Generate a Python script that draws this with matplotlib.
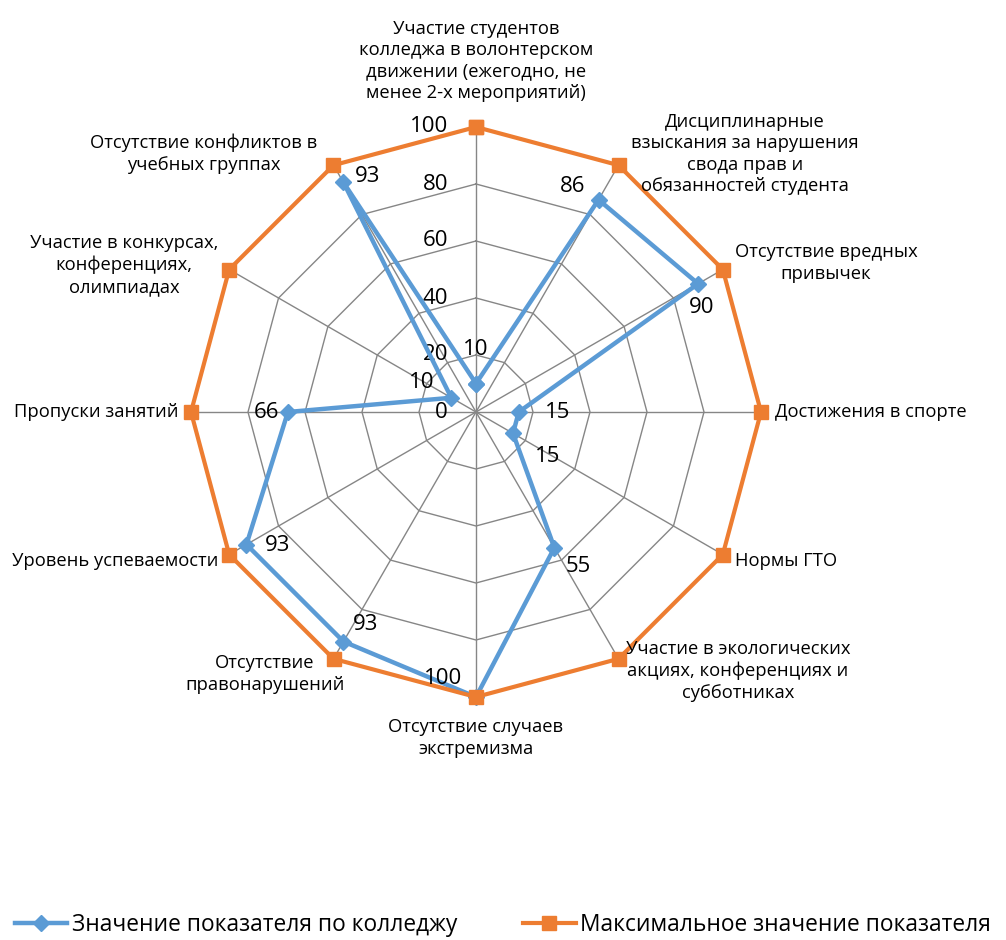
import matplotlib
matplotlib.use('Agg')
import matplotlib.pyplot as plt
import numpy as np
from matplotlib.lines import Line2D

plt.rcParams['font.family'] = ['Open Sans', 'DejaVu Sans']

# данные
categories = [
    'Участие студентов\nколледжа в волонтерском\nдвижении (ежегодно, не\nменее 2-х мероприятий)',
    'Дисциплинарные\nвзыскания за нарушения\nсвода прав и\nобязанностей студента',
    'Отсутствие вредных\nпривычек',
    'Достижения в спорте',
    'Нормы ГТО',
    'Участие в экологических\nакциях, конференциях и\nсубботниках',
    'Отсутствие случаев\nэкстремизма',
    'Отсутствие\nправонарушений',
    'Уровень успеваемости',
    'Пропуски занятий',
    'Участие в конкурсах,\nконференциях,\nолимпиадах',
    'Отсутствие конфликтов в\nучебных группах',
]
college = [10, 86, 90, 15, 15, 55, 100, 93, 93, 66, 10, 93]
maximum = [100] * 12
rings = [20, 40, 60, 80, 100]
ring_labels = [0, 20, 40, 60, 80, 100]

blue = '#5B9BD5'
orange = '#ED7D31'
grid_c = '#868686'

W, H = 1006, 940
fig = plt.figure(figsize=(W / 100, H / 100), dpi=100)
cx, cy, R = 476, 412, 285
ax = fig.add_axes([(cx - R) / W, (H - cy - R) / H, 2 * R / W, 2 * R / H], projection='polar')
ax.set_theta_zero_location('N')
ax.set_theta_direction(-1)
ax.set_ylim(0, 100)

n = len(categories)
theta = np.linspace(0, 2 * np.pi, n, endpoint=False)
th_c = np.append(theta, theta[0])

# сетка
ax.set_xticks(theta)
ax.set_xticklabels([])
ax.set_yticks([])
ax.xaxis.grid(True, color=grid_c, linewidth=1)
ax.spines['polar'].set_visible(False)
ax.set_facecolor('none')
for r in rings:
    ax.plot(th_c, [r] * (n + 1), color=grid_c, linewidth=1, zorder=1)

# подписи оси
for v in ring_labels:
    ax.annotate(str(v), xy=(0, v), xytext=(-28, 0), textcoords='offset pixels',
                ha='right', va='center', fontsize=16)

c_vals = college + college[:1]
m_vals = maximum + maximum[:1]
ax.plot(th_c, c_vals, color=blue, linewidth=3.2, marker='D', markersize=8, zorder=3,
        clip_on=False)
ax.plot(th_c, m_vals, color=orange, linewidth=3, marker='s', markersize=10, zorder=4,
        clip_on=False)

# подписи значений
offsets = [(0, 34), (-26, 13), (3, -24), (39, 0), (35, -23), (24, -19),
           (-33, 19), (22, 17), (31, -1), (-21, 0), (-30, 15), (24, 6)]
for t, v, off in zip(theta, college, offsets):
    ax.annotate(str(v), xy=(t, v), xytext=off, textcoords='offset pixels',
                ha='center', va='center', fontsize=16, zorder=5)

# подписи категорий
label_pos = [
    (476, 61, 'center'), (745, 154, 'center'), (826, 263, 'center'),
    (775, 412, 'left'), (735, 561, 'left'), (738, 671, 'center'),
    (476, 738, 'center'), (265, 674, 'center'), (218, 561, 'right'),
    (178, 412, 'right'), (124, 265, 'center'), (204, 154, 'center'),
]
for txt, (x, y, ha) in zip(categories, label_pos):
    fig.text(x / W, 1 - y / H, txt, ha=ha, va='center', fontsize=13.2,
             multialignment='center', linespacing=1.25)

handles = [
    Line2D([], [], color=blue, linewidth=3.2, marker='D', markersize=8),
    Line2D([], [], color=orange, linewidth=3, marker='s', markersize=10),
]
fig.legend(handles, ['Значение показателя по колледжу', 'Максимальное значение показателя'],
           loc='center', bbox_to_anchor=(0.5, 1 - 925 / H), ncol=2, frameon=False,
           fontsize=16.4, handlelength=2.3, handletextpad=0.2, columnspacing=2.9)

fig.savefig('out.png', dpi=100)
